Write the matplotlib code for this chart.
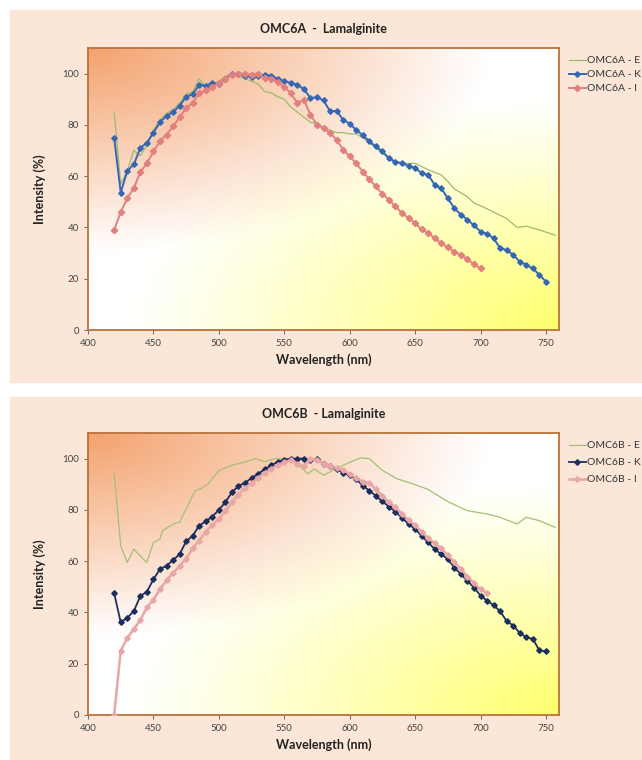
import numpy as np
import matplotlib.pyplot as plt
from matplotlib.patches import Rectangle

plt.rcParams['font.family'] = ['Lato', 'DejaVu Sans']

# ---- OMC6A data ----
wl_a_blue = list(range(420, 755, 5))
a_blue = [75, 53.6, 62, 64.6, 71, 73, 77, 81, 83.6, 85, 87.5, 91, 92, 95.7, 95.3,
          96.4, 96, 98, 99.7, 100, 99.2, 98.7, 99, 99.6, 99.2, 98, 97, 96.4, 95.7,
          94, 90.5, 90.8, 89.6, 85.3, 85.5, 82, 80.5, 78, 76, 73.6, 71.6, 69.7, 67,
          65.5, 65, 64, 63.2, 61.2, 60.5, 56.6, 55.3, 51.4, 47.5, 45, 43, 40.8, 38.4,
          37.5, 35.8, 31.9, 31.2, 29.3, 26.7, 25.4, 24, 21.5, 18.9]
wl_a_red = list(range(420, 705, 5))
a_red = [39, 46, 51.4, 55.3, 61.6, 65, 69.7, 73.6, 76.2, 79.4, 83, 86.6, 88.5, 92.4,
         93.5, 94.8, 96.4, 98, 99.6, 100, 100, 99.6, 100, 98.3, 98, 96.6, 94.8, 92.4,
         88.5, 89.8, 84, 80, 78.8, 76.8, 74.2, 70.3, 67.7, 65, 61.8, 58.8, 56, 53,
         50.8, 48.2, 45.6, 43.6, 41.7, 39.3, 37.8, 35.8, 33.9, 32.3, 30.6, 29.3,
         27.6, 25.7, 24]
wl_a_green = [420, 425, 430, 435, 440, 445, 450, 455, 460, 465, 470, 475, 480, 485,
              490, 495, 500, 505, 510, 515, 520, 525, 530, 535, 540, 545, 550, 555,
              560, 565, 570, 575, 580, 585, 590, 595, 600, 605, 610, 615, 620, 625,
              630, 635, 640, 645, 650, 660, 670, 675, 680, 690, 695, 700, 710, 720,
              728, 735, 745, 757]
a_green = [85, 57, 62, 70, 68, 72, 78, 82, 84.5, 86, 88.5, 92, 93, 98, 95, 96, 97,
           99, 100, 99, 98, 97, 96, 93, 92.5, 91, 90, 87, 85, 83, 81, 80.5, 79, 78,
           77, 77, 76.5, 76.5, 75, 73, 71, 69, 67, 66, 65, 65, 65, 62.5, 60.5, 58,
           55, 52, 49.5, 48.5, 46, 43.5, 40, 40.5, 39, 37]

# ---- OMC6B data ----
wl_b_blue = list(range(420, 755, 5))
b_blue = [47.5, 36.2, 37.9, 40.5, 46.4, 48.1, 52.9, 56.9, 58.2, 60.4, 62.7, 67.7,
          69.9, 73.9, 75.5, 77.4, 80, 83, 86.9, 89.3, 90.6, 92.4, 94.1, 95.8, 97.4,
          98.8, 99.5, 100, 100, 100, 99.5, 100, 98, 97, 96, 94.5, 93.5, 92, 89.5,
          87.5, 85.5, 83.3, 81.3, 79.3, 76.9, 74.5, 72.5, 69.9, 67.3, 64.7, 62.7,
          60.8, 57.5, 54.9, 52.3, 49.7, 46.6, 44.6, 42.8, 40.5, 36.6, 34.9, 32,
          30.3, 29.7, 25.2, 24.8]
wl_b_pink = list(range(420, 710, 5))
b_pink = [0, 25, 30, 33.5, 37, 42, 45, 49, 52.5, 55.5, 58, 61, 65, 68, 71.5, 74,
          76.5, 79.5, 83, 86, 88.5, 90.5, 92.5, 94.5, 96, 97.5, 98.5, 99.5, 98, 97,
          100, 99.5, 98, 97, 96.5, 95.5, 94, 92.5, 91, 90.5, 88, 85.5, 83, 81, 78.5,
          76, 74, 71.5, 69, 67, 65, 62.5, 59.5, 57, 54, 51.5, 49, 47.5]
wl_b_green = [420, 425, 430, 435, 440, 445, 450, 455, 457, 465, 470, 475, 482, 487,
              492, 500, 510, 520, 528, 535, 543, 553, 560, 568, 573, 580, 587, 595,
              608, 615, 625, 636, 648, 659, 676, 690, 705, 715, 728, 735, 745, 757]
b_green = [94, 66, 59.5, 64.7, 62, 59.5, 67.3, 68.6, 71.9, 74.5, 75.2, 80.4, 87.6,
           88.5, 90.2, 95.4, 97.4, 98.7, 100, 98.8, 100, 100, 98, 94.1, 96, 93.5,
           95.4, 97.4, 100.3, 100, 95.4, 92.2, 90.2, 88.2, 83, 79.7, 78.4, 77.1,
           74.5, 77.1, 75.8, 73.2]

xticks = [400, 450, 500, 550, 600, 650, 700, 750]
yticks = [0, 20, 40, 60, 80, 100]

fig = plt.figure(figsize=(6.42, 7.6), dpi=100)
fig.patch.set_facecolor('white')

panel_col = '#fce6d8'
fig.patches.append(Rectangle((10 / 642, 1 - 382 / 760), 1, 372 / 760,
                             transform=fig.transFigure, color=panel_col, zorder=-5))
fig.patches.append(Rectangle((10 / 642, 0), 1, 363 / 760,
                             transform=fig.transFigure, color=panel_col, zorder=-5))

# gradient for plot area: orange top-left, white middle, yellow bottom-right
n = 200
u, v = np.meshgrid(np.linspace(0, 1, n), np.linspace(0, 1, n))
w_or = np.clip(1 - np.hypot(u / 1.0, v / 0.85) / 0.85, 0, 1) ** 1.0
w_ye = np.clip(1 - np.hypot((1 - u) / 1.0, (1 - v) / 0.9) / 0.92, 0, 1) ** 1.1
tot = np.maximum(w_or + w_ye, 1)
w_or, w_ye = w_or / tot, w_ye / tot
orange = np.array([244, 162, 110]) / 255
yellow = np.array([255, 255, 110]) / 255
white = np.array([1.0, 1.0, 1.0])
grad = (white[None, None, :] * (1 - w_or - w_ye)[..., None]
        + orange[None, None, :] * w_or[..., None]
        + yellow[None, None, :] * w_ye[..., None])
grad = np.clip(grad, 0, 1)


def setup(ax, title, handles_pos, spacing, series):
    ax.patch.set_alpha(0)
    ax.imshow(grad, extent=[400, 760, 0, 110], aspect='auto', origin='upper',
              zorder=0, interpolation='bilinear')
    ax.set_xlim(400, 760)
    ax.set_ylim(0, 110)
    ax.set_xticks(xticks)
    ax.set_yticks(yticks)
    ax.tick_params(labelsize=7, colors='#555555', length=3, width=0.6)
    for lab in ax.get_xticklabels() + ax.get_yticklabels():
        lab.set_color('#444444')
    for s in ax.spines.values():
        s.set_color('#b8733a')
        s.set_linewidth(1.3)
    ax.set_title(title, fontsize=9, fontweight='bold', color='#222222', pad=11)
    ax.set_xlabel('Wavelength (nm)', fontsize=9, fontweight='bold', color='#222222',
                  labelpad=4)
    ax.set_ylabel('Intensity (%)', fontsize=9, fontweight='bold', color='#222222',
                  labelpad=12)
    hs = []
    for x, y, kw, lab in series:
        h, = ax.plot(x, y, label=lab, zorder=3, **kw)
        hs.append(h)
    leg = ax.legend(handles=hs, loc='upper left', bbox_to_anchor=handles_pos,
                    bbox_transform=fig.transFigure, frameon=False, fontsize=7.5,
                    handlelength=1.6, handletextpad=0.1, labelspacing=spacing,
                    borderaxespad=0, borderpad=0)
    for t in leg.get_texts():
        t.set_color('#333333')


ax1 = fig.add_axes([88 / 642, 1 - 330 / 760, 471 / 642, 282 / 760])
setup(ax1, 'OMC6A  -  Lamalginite', (569 / 642, 1 - 56 / 760), 0.45, [
    (wl_a_green, a_green, dict(color='#9bbb6a', lw=0.9), 'OMC6A - E'),
    (wl_a_blue, a_blue, dict(color='#3566b5', lw=1.4, marker='D', ms=2.8), 'OMC6A - K'),
    (wl_a_red, a_red, dict(color='#e2807d', lw=1.4, marker='D', ms=3.2), 'OMC6A - I'),
])

ax2 = fig.add_axes([88 / 642, 1 - 715 / 760, 471 / 642, 282 / 760])
setup(ax2, 'OMC6B  - Lamalginite', (569 / 642, 1 - 441 / 760), 0.75, [
    (wl_b_green, b_green, dict(color='#a3c07a', lw=0.9), 'OMC6B - E'),
    (wl_b_blue, b_blue, dict(color='#1c2f5c', lw=1.3, marker='D', ms=2.8), 'OMC6B - K'),
    (wl_b_pink, b_pink, dict(color='#e8a6a6', lw=1.8, marker='D', ms=2.8), 'OMC6B - I'),
])

fig.savefig('out.png', dpi=100)
